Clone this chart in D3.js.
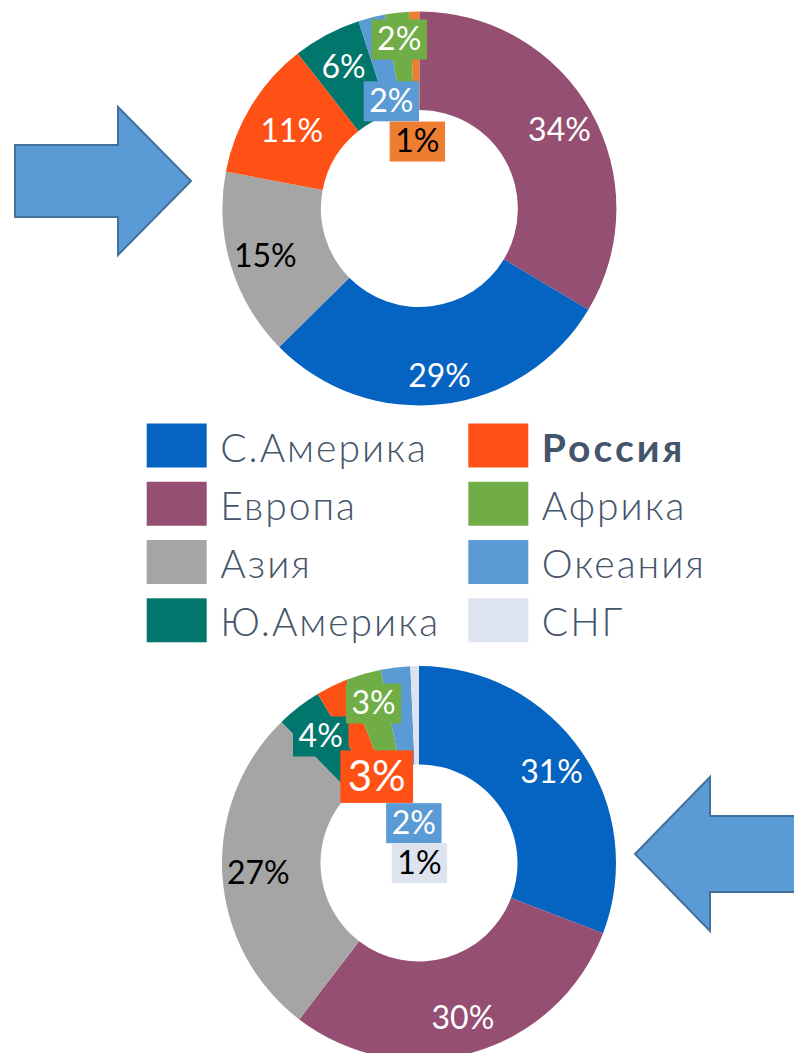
<!DOCTYPE html>
<html>
<head>
<meta charset="utf-8">
<script src="https://cdn.jsdelivr.net/npm/d3@7"></script>
<style>
  html, body { margin: 0; padding: 0; background: #fff; }
</style>
</head>
<body>
<div id="chart"></div>
<script>
// ======================================================================
// DATA
// ======================================================================

// legend order (two columns of four)
const regions = ["С.Америка", "Европа", "Азия", "Ю.Америка", "Россия", "Африка", "Океания", "СНГ"];

// upper donut, clockwise from 12 o'clock
const topRegions = ["Европа", "С.Америка", "Азия", "Россия", "Ю.Америка", "Океания", "Африка", "Прочие"];
const topShares = [33.6, 29.0, 15.4, 11.4, 5.6, 2.2, 2.0, 0.8];

// lower donut, clockwise from 12 o'clock
const bottomRegions = ["С.Америка", "Европа", "Азия", "Ю.Америка", "Россия", "Африка", "Океания", "СНГ"];
const bottomShares = [30.8, 29.6, 27.3, 3.7, 2.6, 2.9, 2.4, 0.7];

// ======================================================================
// STYLE / LAYOUT
// ======================================================================

const colors = {
  "С.Америка": "#0563C1",
  "Европа": "#954F72",
  "Азия": "#A5A5A5",
  "Ю.Америка": "#00766C",
  "Россия": "#FF5015",
  "Африка": "#70AD47",
  "Океания": "#5B9BD5",
  "СНГ": "#DDE4EF",
  "Прочие": "#ED7D31",
};
const darkInk = ["Азия", "Прочие", "СНГ"]; // labels printed in black

const width = 794;
const height = 1053;
const outerR = 197;
const innerR = 98.5;
const labelR = 161;

// labels that were dragged away from the slice (offset from default spot)
const topNudges = {
  "С.Америка": [1, 7],
  "Россия": [10, 6],
  "Океания": [11, 48],
  "Африка": [-2, -10],
  "Прочие": [2, 93],
};
const bottomNudges = { "Россия": [29, 57], "Африка": [0, -6], "Океания": [14, 119], "СНГ": [4, 160] };

const svg = d3
  .select("#chart")
  .append("svg")
  .attr("width", width)
  .attr("height", height)
  .style("display", "block");

svg.append("rect").attr("width", width).attr("height", height).attr("fill", "#fff");

// ======================================================================
// ARROWS
// ======================================================================

const arrows = [
  [[15, 145], [118, 145], [118, 107], [191, 181], [118, 255], [118, 217], [15, 217]],
  [[635, 854], [710, 777], [710, 816], [800, 816], [800, 892], [710, 892], [710, 931]],
];

svg
  .append("g")
  .selectAll("path")
  .data(arrows)
  .join("path")
  .attr("d", (d) => d3.line()(d) + "Z")
  .attr("fill", "#5B9BD5")
  .attr("stroke", "#41719C")
  .attr("stroke-width", 2)
  .attr("stroke-linejoin", "miter");

// ======================================================================
// DONUTS
// ======================================================================

const pie = d3.pie().sort(null).value((d) => d.share);
const arc = d3.arc().innerRadius(innerR).outerRadius(outerR);
const labelArc = d3.arc().innerRadius(labelR).outerRadius(labelR);

const drawDonut = (names, shares, cx, cy, nudges, bigOne) => {
  const arcs = pie(names.map((name, i) => ({ name, share: shares[i] })));

  const g = svg.append("g").attr("transform", `translate(${cx},${cy})`);

  g.append("g")
    .selectAll("path")
    .data(arcs)
    .join("path")
    .attr("d", arc)
    .attr("fill", (d) => colors[d.data.name]);

  const labels = g
    .append("g")
    .attr("font-family", "Lato, 'Open Sans', sans-serif")
    .selectAll("g")
    .data(arcs)
    .join("g")
    .attr("transform", (d) => {
      const [x, y] = labelArc.centroid(d);
      const n = nudges[d.data.name] || [0, 0];
      return `translate(${x + n[0]},${y + n[1]})`;
    });

  labels.each(function (d) {
    const el = d3.select(this);
    const fs = d.data.name === bigOne ? 42 : 32;
    const boxed = d.data.share < 5;
    const box = boxed ? el.append("rect") : null;
    const text = el
      .append("text")
      .attr("text-anchor", "middle")
      .attr("y", fs * 0.36)
      .attr("font-size", fs)
      .attr("fill", darkInk.includes(d.data.name) ? "#000" : "#fff")
      .text(Math.round(d.data.share) + "%");
    if (boxed) {
      const w = text.node().getComputedTextLength() + fs * 0.35;
      const h = fs * 1.25;
      box
        .attr("x", -w / 2)
        .attr("y", -h / 2 + 1)
        .attr("width", w)
        .attr("height", h)
        .attr("fill", colors[d.data.name]);
    }
  });
};

drawDonut(topRegions, topShares, 419.4, 208.5, topNudges, null);
drawDonut(bottomRegions, bottomShares, 419, 863, bottomNudges, "Россия");

// ======================================================================
// LEGEND
// ======================================================================

const colX = d3.scaleOrdinal().domain([0, 1]).range([146.7, 468.3]);
const rowY = d3.scaleLinear().domain([0, 3]).range([423.5, 598.3]);

const legend = svg
  .append("g")
  .attr("font-family", "Lato, 'Open Sans', sans-serif")
  .selectAll("g")
  .data(regions)
  .join("g")
  .attr("transform", (d, i) => `translate(${colX(Math.floor(i / 4))},${rowY(i % 4)})`);

legend
  .append("rect")
  .attr("width", 60)
  .attr("height", 44)
  .attr("fill", (d) => colors[d]);

legend
  .append("text")
  .attr("x", 73.5)
  .attr("y", 38)
  .attr("font-size", 39)
  .attr("letter-spacing", (d) => (d === "Россия" ? 3 : 2))
  .attr("font-weight", (d) => (d === "Россия" ? 700 : 300))
  .attr("fill", "#44546A")
  .text((d) => d);
</script>
</body>
</html>
